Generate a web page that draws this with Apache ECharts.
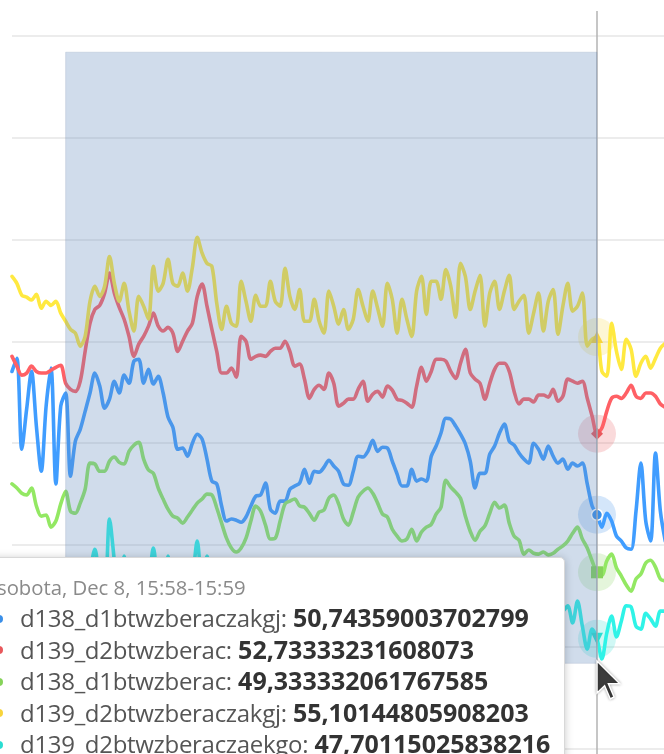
<!DOCTYPE html>
<html>
<head>
<meta charset="utf-8">
<script src="https://cdn.jsdelivr.net/npm/echarts@6/dist/echarts.min.js"></script>
<style>
html,body{margin:0;padding:0;background:#fff;overflow:hidden;}
#chart{width:664px;height:754px;}
</style>
</head>
<body>
<div id="chart"></div>
<script>
// ---- data ----
const seriesNames = ['d138_d1btwzberaczakgj', 'd139_d2btwzberac', 'd138_d1btwzberac', 'd139_d2btwzberaczakgj', 'd139_d2btwzberaczaekgo'];
const dayLabel = 'sobota, Dec 8';
const startTime = '13:58';
const cursorIndex = 120;

const d138_d1btwzberaczakgj = [54.26,54.58,52.35,53.33,54.26,52.92,51.81,53.41,54.34,51.50,
53.41,53.73,51.69,52.55,52.84,53.28,53.73,54.22,53.90,53.36,
53.58,54.02,53.73,54.17,53.97,54.51,54.56,53.97,54.31,53.95,
54.14,53.73,53.14,52.89,52.35,52.38,52.18,52.50,52.72,52.60,
52.11,51.57,51.50,50.96,50.59,50.64,50.61,50.56,50.69,50.96,
51.20,51.23,51.52,50.88,50.78,51.08,51.08,51.37,51.45,51.52,
51.86,51.52,51.81,51.79,51.91,52.08,51.94,51.81,51.50,51.47,
51.81,52.18,52.16,52.30,52.57,52.30,52.40,52.38,52.06,51.74,
51.45,51.45,51.86,51.57,51.62,51.57,52.18,52.43,52.75,53.11,
53.09,52.92,52.72,52.48,52.06,51.40,51.76,51.76,52.23,52.43,
52.75,52.97,52.55,52.45,52.26,52.11,52.01,52.50,52.35,52.11,
52.43,52.18,52.01,52.11,51.86,52.01,51.94,52.01,51.50,50.96,
50.74359003702799,50.44,50.78,50.59,50.22,50.10,49.93,49.90,50.83,52.01,
50.59,50.10,52.26,50.83,50.10];

const d139_d2btwzberac = [54.63,54.39,54.17,54.22,54.39,54.26,54.22,54.22,54.29,54.36,
54.41,53.97,53.82,53.77,54.02,54.75,55.44,55.78,55.88,56.18,
56.67,56.18,55.83,55.54,55.12,54.63,54.93,55.12,55.37,55.69,
55.37,55.25,55.34,55.20,54.75,55.00,55.25,55.44,56.10,56.40,
55.86,55.29,54.75,54.22,54.22,54.34,54.12,55.12,55.00,54.56,
54.63,54.66,54.63,54.75,54.83,54.83,55.00,54.75,54.39,54.44,
54.07,53.60,53.82,53.92,53.82,54.22,53.97,53.41,53.48,53.58,
53.58,53.82,54.02,53.53,53.70,53.77,53.63,53.90,53.80,53.58,
53.55,53.48,53.38,53.90,54.36,54.02,54.26,54.56,54.56,54.51,
54.26,54.09,54.46,54.80,54.22,54.07,53.97,53.58,53.97,54.31,
54.46,54.46,54.26,53.77,53.46,53.58,53.58,53.51,53.68,53.68,
53.63,53.82,53.53,53.65,54.07,54.02,53.97,54.02,53.60,53.16,
52.73333231608073,52.87,53.28,53.60,53.65,53.60,53.73,53.92,53.65,53.60,
53.73,53.73,53.65,53.46,53.38];

const d138_d1btwzberac = [51.50,51.40,51.27,51.23,51.40,50.96,50.71,50.74,50.44,50.59,
51.01,51.32,50.83,50.78,51.03,51.37,52.01,51.99,51.81,51.81,
52.06,52.16,52.03,51.99,52.30,52.45,52.52,52.11,51.84,51.76,
51.40,51.13,50.88,50.71,50.66,50.54,50.69,50.86,51.03,51.13,
51.25,51.23,50.91,50.54,50.17,49.93,49.83,49.93,50.17,50.59,
50.96,50.83,50.49,50.15,50.17,50.59,51.01,51.08,51.13,50.96,
50.93,50.78,50.61,50.81,50.86,51.15,51.23,51.01,50.64,50.49,
50.81,51.18,51.32,51.40,51.27,51.03,50.76,50.69,50.39,50.22,
50.10,50.15,50.39,50.10,50.32,50.44,50.51,50.76,50.93,51.59,
51.42,51.30,51.15,50.71,50.34,50.12,50.34,50.47,50.78,51.05,
50.91,50.98,50.54,50.22,50.12,49.78,49.88,49.80,49.78,49.83,
49.76,49.80,49.90,49.98,50.10,50.29,50.44,50.15,49.93,49.61,
49.333332061767585,49.26,49.61,49.78,49.44,49.24,49.02,48.87,49.17,49.29,
49.56,49.63,49.46,49.17,49.12];

const d139_d2btwzberaczakgj = [56.59,56.42,56.13,56.08,56.01,56.15,55.81,55.98,55.88,55.98,
55.69,55.49,55.29,55.20,54.88,55.12,55.98,56.35,56.10,56.35,
57.08,56.42,55.98,56.42,55.74,55.25,56.10,55.86,55.54,56.84,
56.23,56.42,57.01,56.42,56.35,56.67,56.23,56.81,57.55,57.16,
56.91,56.84,55.93,55.29,55.86,55.44,55.37,56.47,55.98,55.49,
56.13,55.86,55.86,56.47,55.98,55.86,56.79,56.10,55.78,56.27,
55.49,55.49,56.03,55.49,55.20,56.23,55.86,55.42,55.78,55.29,
55.54,56.27,55.86,55.49,56.23,55.81,55.37,56.42,56.03,55.20,
56.03,55.54,55.12,56.23,56.59,55.66,56.47,56.47,56.03,56.76,
56.35,55.59,56.91,56.59,55.78,56.23,56.62,55.37,56.18,56.47,
55.78,56.23,56.62,55.78,55.98,56.13,55.20,55.69,56.18,55.25,
55.98,56.27,55.17,55.86,56.42,55.74,55.86,56.18,54.88,55.05,
55.10144805908203,54.26,54.14,55.44,54.75,54.31,55.05,54.80,54.14,54.46,
54.63,54.34,54.58,54.83,54.95];

const d139_d2btwzberaczaekgo = [48.38,48.68,48.01,48.51,48.87,48.14,48.63,47.89,48.43,48.75,
48.09,48.63,48.26,47.84,48.51,48.92,49.36,49.90,49.12,48.75,
50.64,49.61,48.63,49.73,48.87,48.33,48.68,49.00,49.17,49.93,
48.87,48.63,49.73,48.87,48.33,48.63,49.00,49.24,50.10,49.00,
49.73,49.00,48.51,48.14,48.75,48.38,47.94,48.63,48.87,48.26,
48.01,48.63,48.92,48.38,47.89,48.51,48.82,48.19,47.99,48.63,
48.87,48.33,47.94,48.53,48.75,48.14,47.84,48.48,48.82,48.26,
48.01,48.63,48.92,48.33,47.89,48.43,48.77,48.24,47.94,48.58,
48.87,48.26,47.97,48.55,48.82,48.19,47.89,48.48,48.75,48.33,
47.99,48.63,48.87,48.26,47.89,48.51,48.82,48.14,47.84,48.48,
48.77,48.26,47.94,48.58,48.87,48.28,47.89,48.51,48.73,48.14,
47.82,48.43,48.75,48.38,48.51,48.09,48.63,48.01,47.45,47.94,
47.70115025838216,47.21,47.84,48.26,47.75,48.14,48.51,48.48,48.01,47.94,
48.33,48.19,48.01,48.38,48.38];

const seriesValues = [d138_d1btwzberaczakgj, d139_d2btwzberac, d138_d1btwzberac, d139_d2btwzberaczakgj, d139_d2btwzberaczaekgo];

// ---- styling ----
const seriesColors = ['#3b8fe8', '#e8585c', '#86d35a', '#f8d43b', '#2bddd2'];
const seriesSymbols = ['circle', 'diamond', 'rect', 'triangle', 'triangle'];
const seriesSymbolRotate = [0, 0, 0, 0, 180];

// minute categories
function pad(n) { return (n < 10 ? '0' : '') + n; }
const categories = [];
(function () {
  const p = startTime.split(':');
  const m0 = (+p[0]) * 60 + (+p[1]);
  for (let i = 0; i <= d138_d1btwzberaczakgj.length; i++) {
    const m = m0 + i;
    categories.push(pad(Math.floor(m / 60) % 24) + ':' + pad(m % 60));
  }
})();
const axisCategories = categories.slice(0, d138_d1btwzberaczakgj.length);

const chart = echarts.init(document.getElementById('chart'), null, { renderer: 'canvas' });

const series = seriesNames.map(function (name, k) {
  return {
    name: name,
    type: 'line',
    data: seriesValues[k],
    smooth: 0.3,
    showSymbol: false,
    symbol: seriesSymbols[k],
    symbolRotate: seriesSymbolRotate[k],
    symbolSize: k === 0 ? 11 : 12,
    color: seriesColors[k],
    lineStyle: { width: 3.6, color: seriesColors[k], join: 'round', cap: 'round' },
    itemStyle: { color: seriesColors[k], borderColor: k === 0 ? '#ffffff' : seriesColors[k], borderWidth: k === 0 ? 1.5 : 0 },
    emphasis: { scale: 1, focus: 'none', lineStyle: { width: 3.6 } },
    animation: false,
    z: 2 + k,
    markPoint: {
      silent: true,
      z: 1,
      animation: false,
      symbol: 'circle',
      symbolSize: 38,
      label: { show: false },
      itemStyle: { color: seriesColors[k], opacity: 0.22, borderWidth: 0 },
      data: [{ coord: [cursorIndex, seriesValues[k][cursorIndex]] }]
    }
  };
});

function fmt(v) { return String(v).replace('.', ','); }

const option = {
  animation: false,
  backgroundColor: '#ffffff',
  toolbox: { show: false },
  grid: { left: 12, top: 11, width: 653.25, height: 839.9, containLabel: false, outerBoundsMode: 'none' },
  xAxis: {
    type: 'category',
    data: axisCategories,
    boundaryGap: false,
    axisLine: { show: false },
    axisTick: { show: false },
    axisLabel: { show: false },
    splitLine: { show: false }
  },
  yAxis: {
    type: 'value',
    min: 42.5,
    max: 63.1,
    interval: 2.5,
    axisLine: { show: false },
    axisTick: { show: false },
    axisLabel: { show: false },
    splitLine: { show: true, showMinLine: true, showMaxLine: false, lineStyle: { color: '#e6e6e6', width: 1.6 } }
  },
  brush: {
    toolbox: ['rect'],
    xAxisIndex: 'all',
    yAxisIndex: 'all',
    seriesIndex: [],
    brushType: 'rect',
    transformable: false,
    outOfBrush: { colorAlpha: 1 },
    brushStyle: { color: 'rgba(100,140,190,0.3)', borderColor: 'rgba(110,135,170,0.2)', borderWidth: 1 },
    z: 10000
  },
  tooltip: {
    trigger: 'axis',
    alwaysShowContent: true,
    showDelay: 0,
    transitionDuration: 0,
    position: function () { return [-20, 557]; },
    backgroundColor: '#ffffff',
    borderColor: '#d8d8d8',
    borderWidth: 1,
    padding: [15, 18, 15, 16],
    extraCssText: 'width:585px;box-sizing:border-box;border-radius:5px;box-shadow:0 1px 8px rgba(0,0,0,0.22);',
    axisPointer: {
      type: 'line',
      animation: false,
      lineStyle: { color: '#b3b3b3', width: 1.5, type: 'solid' }
    },
    formatter: function (params) {
      const idx = params[0].dataIndex;
      let html = '<div style="font-family:\'Open Sans\',sans-serif;font-size:20.3px;line-height:29px;color:#8a8a8a;white-space:nowrap;">' +
        dayLabel + ', ' + categories[idx] + '-' + categories[idx + 1] + '</div>';
      params.forEach(function (p) {
        html += '<div style="font-family:\'Open Sans\',sans-serif;font-size:24px;line-height:30.5px;color:#555;white-space:nowrap;">' +
          '<span style="display:inline-block;width:8px;height:8px;border-radius:4px;background:' + p.color +
          ';margin-left:-2px;margin-right:17px;vertical-align:middle;position:relative;top:-2px;"></span>' +
          '<span style="letter-spacing:-0.3px;">' + p.seriesName + ':</span> <b style="color:#333;font-weight:700;font-size:25px;">' + fmt(p.value) + '</b></div>';
      });
      return html;
    }
  },
  graphic: [{
    type: 'polygon',
    x: 597,
    y: 661,
    z: 100000,
    silent: true,
    shape: { points: [[0, 0], [0, 32], [7.6, 24.7], [13.3, 38], [17.1, 36], [11.4, 22.8], [22.8, 22.8]] },
    style: { fill: '#3c3c3c', stroke: '#ffffff', lineWidth: 1.5, shadowBlur: 3, shadowColor: 'rgba(0,0,0,0.3)' }
  }],
  series: series
};

chart.setOption(option);

chart.dispatchAction({
  type: 'brush',
  areas: [{
    brushType: 'rect',
    xAxisIndex: 0,
    yAxisIndex: 0,
    coordRange: [[11.1, cursorIndex], [47.1, 62.09]]
  }]
});

chart.dispatchAction({ type: 'showTip', seriesIndex: 0, dataIndex: cursorIndex });
</script>
</body>
</html>
